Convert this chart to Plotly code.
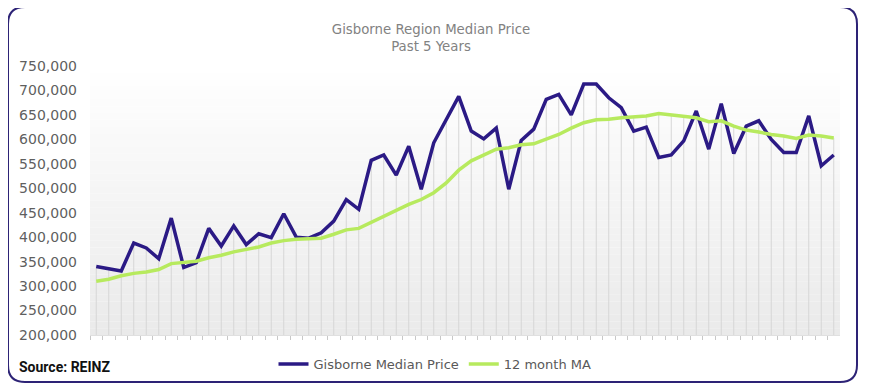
import plotly.graph_objects as go

# ---- data (values in NZD) ----
median_price = [340000, 335000, 331000, 388000, 378000, 356000, 439000, 338000, 348000, 418000,
                382000, 423000, 385000, 407000, 399000, 448000, 400000, 398000, 409000, 433000,
                477000, 457000, 557000, 568000, 527000, 586000, 498000, 593000, 639000, 688000,
                617000, 601000, 623000, 498000, 598000, 621000, 682000, 692000, 650000, 713000,
                713000, 685000, 665000, 617000, 625000, 563000, 568000, 597000, 658000, 580000,
                673000, 571000, 627000, 638000, 600000, 573000, 573000, 648000, 546000, 568000]
ma_12 = [310000, 314000, 321000, 326000, 329000, 334000, 346000, 348000, 351000, 358000,
         363000, 370000, 375000, 380000, 388000, 393000, 396000, 397000, 398000, 406000,
         415000, 418000, 430000, 443000, 454000, 467000, 477000, 491000, 511000, 537000,
         556000, 569000, 580000, 583000, 589000, 591000, 600000, 610000, 623000, 634000,
         640000, 641000, 644000, 646000, 648000, 653000, 650000, 648000, 644000, 636000,
         638000, 627000, 619000, 615000, 610000, 607000, 602000, 609000, 607000, 603000]
months = list(range(len(median_price)))
y_ticks = list(range(200000, 750001, 50000))
y_min, y_max = 200000, 750000

W_PX, H_PX = 871, 386
OFF = 8  # page body margin offset
L, R, T, B = 90 - OFF, 840 - OFF, 66 - OFF, 335 - OFF


def px(x):
    return (x - OFF - L) / (R - L)


def py(y):
    return (B - (y - OFF)) / (B - T)


fig = go.Figure()

# drop lines from the higher series to the axis
dx, dy = [], []
for m, a, b in zip(months, median_price, ma_12):
    dx += [m, m, None]
    dy += [y_min, max(a, b), None]
fig.add_trace(go.Scatter(x=dx, y=dy, mode="lines", line=dict(color="#d6d6d6", width=1),
                         showlegend=False, hoverinfo="skip"))

fig.add_trace(go.Scatter(x=months, y=median_price, mode="lines", name="Gisborne Median Price",
                         line=dict(color="#2b1a85", width=3.5)))
fig.add_trace(go.Scatter(x=months, y=ma_12, mode="lines", name="12 month MA",
                         line=dict(color="#b7ea5e", width=3.5)))

shapes = []
# gradient background of plot area
n = 40
for k in range(n):
    t = (k + 0.5) / n  # 0 top -> 1 bottom
    c = int(round(255 - t * (255 - 234)))
    shapes.append(dict(type="rect", xref="paper", yref="paper", x0=0, x1=1,
                       y0=1 - (k + 1) / n, y1=1 - k / n, line=dict(width=0),
                       fillcolor=f"rgb({c},{c},{c})", layer="below"))

# rounded border
x0, x1, y0, y1, r = 8, 857, 7, 382, 17
pts = (f"M {px(x0 + r)},{py(y0)} L {px(x1 - r)},{py(y0)} Q {px(x1)},{py(y0)} {px(x1)},{py(y0 + r)} "
       f"L {px(x1)},{py(y1 - r)} Q {px(x1)},{py(y1)} {px(x1 - r)},{py(y1)} "
       f"L {px(x0 + r)},{py(y1)} Q {px(x0)},{py(y1)} {px(x0)},{py(y1 - r)} "
       f"L {px(x0)},{py(y0 + r)} Q {px(x0)},{py(y0)} {px(x0 + r)},{py(y0)} Z")
shapes.append(dict(type="path", xref="paper", yref="paper", path=pts,
                   line=dict(color="#2d2376", width=2), layer="above"))

fig.update_layout(
    width=W_PX, height=H_PX,
    margin=dict(l=L, r=W_PX - R, t=T, b=H_PX - B, pad=0),
    paper_bgcolor="white", plot_bgcolor="white",
    shapes=shapes,
    title=dict(text="Gisborne Region Median Price<br>Past 5 Years",
               x=px(431), xref="paper", xanchor="center",
               y=1 - (34 - OFF) / H_PX, yanchor="middle", yref="container",
               font=dict(family="DejaVu Sans", size=13.3, color="#828282")),
    xaxis=dict(range=[-0.5, len(months) - 0.5], showgrid=False, zeroline=False,
               tickvals=[m + 0.5 for m in months[:-1]] + [-0.5], ticks="outside", ticklen=4,
               tickcolor="#c8c8c8", showticklabels=False, showline=True, linecolor="#e0e0e0"),
    yaxis=dict(range=[y_min, y_max], tickvals=y_ticks, tickformat=",", showgrid=False,
               zeroline=False, ticks="", ticklabelstandoff=12,
               tickfont=dict(family="DejaVu Sans", size=14, color="#5f5f5f")),
    legend=dict(orientation="h", x=px(435), xanchor="center", y=py(364), yanchor="middle",
                font=dict(family="DejaVu Sans", size=13, color="#595959"), itemwidth=30,
                bgcolor="rgba(0,0,0,0)"),
    annotations=[dict(text="<b>Source: REINZ</b>", xref="paper", yref="paper",
                      x=px(17), y=py(367), xanchor="left", yanchor="middle", showarrow=False,
                      font=dict(family="Roboto", size=14, color="#111111"))],
)

fig.write_html("out.html")
